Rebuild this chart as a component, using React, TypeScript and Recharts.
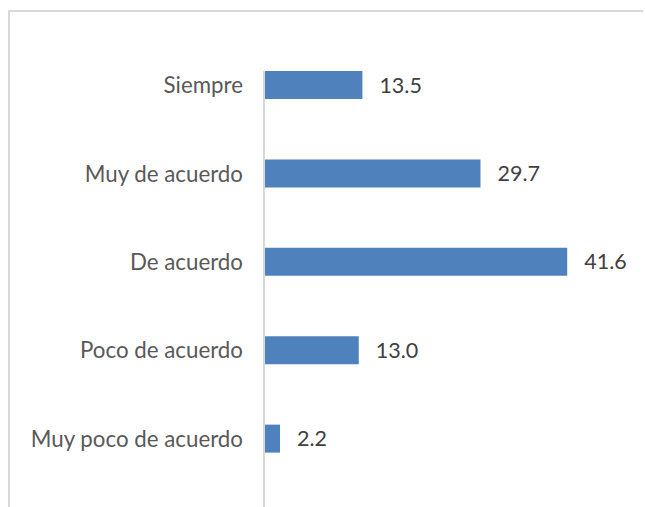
import React from "react";
import { BarChart, Bar, XAxis, YAxis, LabelList } from "recharts";

const categories = [
  "Siempre",
  "Muy de acuerdo",
  "De acuerdo",
  "Poco de acuerdo",
  "Muy poco de acuerdo",
];
const values = [13.5, 29.7, 41.6, 13.0, 2.2];

const chartData = categories.map((name, i) => ({ name, value: values[i] }));

const FONT = "Lato, 'Open Sans', sans-serif";

const App: React.FC = () => {
  return (
    <div
      style={{
        position: "fixed",
        top: 0,
        left: 0,
        width: 645,
        height: 507,
        overflow: "hidden",
        background: "#fff",
        fontFamily: FONT,
      }}
    >
      {/* chart frame: only top and left edges fall inside the view */}
      <div
        style={{
          position: "absolute",
          top: 10,
          left: 8,
          width: 633,
          height: 497,
          borderTop: "2px solid #d9d9d9",
          borderLeft: "2px solid #d9d9d9",
        }}
      />
      <div style={{ position: "absolute", top: 8, left: 8 }}>
        <BarChart
          width={620}
          height={530}
          data={chartData}
          layout="vertical"
          margin={{ top: 63, right: 36, left: 0, bottom: 0 }}
        >
          <XAxis type="number" domain={[0, 45]} hide />
          <YAxis
            type="category"
            dataKey="name"
            width={256}
            padding={{ top: -30, bottom: 55 }}
            axisLine={{ stroke: "#d9d9d9", strokeWidth: 2 }}
            tickLine={false}
            tickSize={0}
            tickMargin={21}
            tick={{ fill: "#595959", fontSize: 22.3, fontFamily: FONT }}
            interval={0}
          />
          <Bar dataKey="value" fill="#4f81bd" barSize={28} isAnimationActive={false}>
            <LabelList
              dataKey="value"
              position="right"
              offset={17}
              formatter={(v: any) => Number(v).toFixed(1)}
              style={{ fill: "#404040", fontSize: 21.5, fontFamily: FONT }}
            />
          </Bar>
        </BarChart>
      </div>
    </div>
  );
};

export default App;
